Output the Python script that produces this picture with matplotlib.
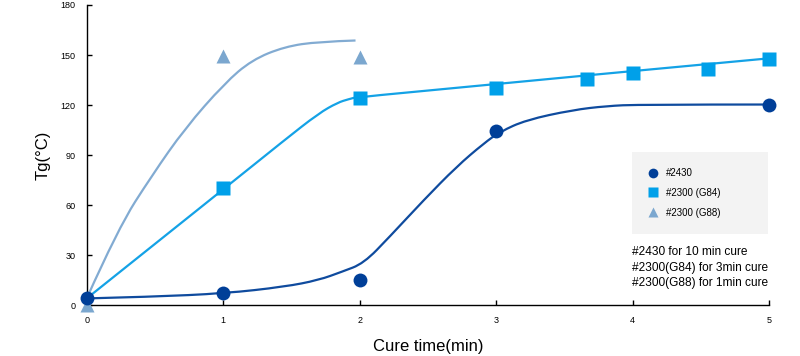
from matplotlib import pyplot as plt
from matplotlib.lines import Line2D
from matplotlib.path import Path
from matplotlib.patches import PathPatch

plt.rcParams['font.family'] = ['Liberation Sans', 'DejaVu Sans']

# measured points
t2430 = [0, 1, 2, 3, 5]
tg2430 = [4.5, 7.5, 15, 104.5, 120]
tG84 = [1, 2, 3, 3.67, 4.0, 4.55, 5]
tgG84 = [70, 124, 130, 135.5, 139.5, 141.5, 147.5]
tG88 = [0, 1, 2]
tgG88 = [0, 149.5, 149]

# trend curves
c2430_x = [0, 0.48, 1.01, 1.45, 1.70, 1.87, 2.03, 2.22, 2.47, 2.71, 2.91, 3.03,
           3.22, 3.56, 3.81, 4.05, 5]
c2430_y = [4, 5, 7, 11, 15, 20, 25, 41, 63, 83, 97, 104, 111, 117, 119.4, 120.3, 120.3]
cG84_x = [0, 1.01, 1.45, 1.70, 1.84, 1.92, 1.99, 5]
cG84_y = [4, 70, 99, 115, 121.5, 123.5, 125, 148]
cG88_x = [0, 0.23, 0.48, 0.72, 1.01, 1.21, 1.45, 1.70, 1.97]
cG88_y = [4, 46, 78, 106, 133, 147, 155, 158, 158.7]

labels = ['#2430', '#2300 (G84)', '#2300 (G88)']
notes = ['#2430 for 10 min cure', '#2300(G84) for 3min cure', '#2300(G88) for 1min cure']
mcolor = ['#003f98', '#00a0e9', '#7ba7cf']
lcolor = ['#0f4b9e', '#14a2e6', '#82abd2']


def smooth(ax, xs, ys, color):
    # quadratic b-spline through the read points
    pts = list(zip(xs, ys))
    verts = [pts[0]]
    codes = [Path.MOVETO]
    for i in range(1, len(pts) - 1):
        mid = ((pts[i][0] + pts[i + 1][0]) / 2, (pts[i][1] + pts[i + 1][1]) / 2)
        if i == len(pts) - 2:
            mid = pts[-1]
        verts += [pts[i], mid]
        codes += [Path.CURVE3, Path.CURVE3]
    if len(pts) == 2:
        verts.append(pts[1])
        codes.append(Path.LINETO)
    ax.add_patch(PathPatch(Path(verts, codes), fc='none', ec=color, lw=1.6,
                           transform=ax.transData, zorder=2))


fig = plt.figure(figsize=(8, 3.56), dpi=100)
ax = fig.add_axes([0.1084, 0.143, 0.8528, 0.843])

smooth(ax, cG88_x, cG88_y, lcolor[2])
smooth(ax, cG84_x, cG84_y, lcolor[1])
smooth(ax, c2430_x, c2430_y, lcolor[0])

ax.plot(tG88, tgG88, '^', ms=10, color=mcolor[2], mec='none', clip_on=False, zorder=3, label=labels[2])
ax.plot(tG84, tgG84, 's', ms=10, color=mcolor[1], mec='none', clip_on=False, zorder=3, label=labels[1])
ax.plot(t2430, tg2430, 'o', ms=10, color=mcolor[0], mec='none', clip_on=False, zorder=4, label=labels[0])

ax.set_xlim(0, 5)
ax.set_ylim(0, 180)
ax.set_xticks(range(6))
ax.set_yticks(range(0, 181, 30))
for s in ['top', 'right']:
    ax.spines[s].set_visible(False)
for s in ['left', 'bottom']:
    ax.spines[s].set_linewidth(1.0)
ax.tick_params(axis='both', direction='in', length=3.5, width=1.0, labelsize=6.5)
ax.tick_params(axis='y', pad=8)
ax.tick_params(axis='x', pad=8)

ax.set_ylabel('Tg(°C)', fontsize=12, labelpad=7)
ax.set_xlabel('Cure time(min)', fontsize=12, labelpad=10)

handles = [Line2D([], [], ls='none', marker=m, ms=7, color=c, mec='none')
           for m, c in zip(['o', 's', '^'], mcolor)]
leg = ax.legend(handles, labels, loc='upper left', bbox_to_anchor=(0.799, 0.24, 0.1995, 0.27),
                mode='expand', fontsize=7, frameon=True, fancybox=False, framealpha=1,
                facecolor='#f3f3f3', edgecolor='none', borderpad=1.65, labelspacing=1.0,
                handlelength=1.0, handletextpad=0.9, borderaxespad=0)

for i, n in enumerate(notes):
    ax.text(0.799, 0.177 - i * 0.052, n, transform=ax.transAxes, fontsize=8.6,
            ha='left', va='center')

plt.savefig('out.png', dpi=100)
